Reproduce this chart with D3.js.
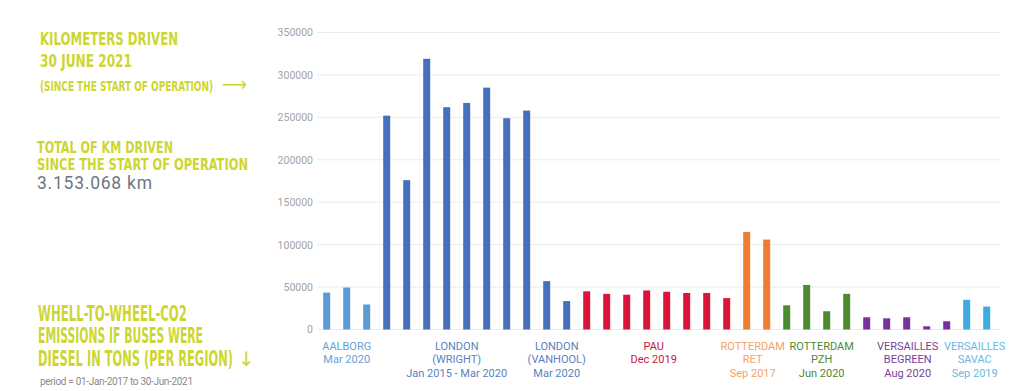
<!DOCTYPE html>
<html>
<head>
<meta charset="utf-8">
<script src="https://cdn.jsdelivr.net/npm/d3@7"></script>
<style>
  body { margin: 0; background: #fff; }
  svg { display: block; }
  .head { font-family: "DejaVu Sans Condensed", "DejaVu Sans"; font-weight: bold; fill: #cdd631; }
  .tick text { font-family: Roboto, sans-serif; font-size: 10.5px; fill: #a3a3a3; }
  .grp { font-family: Roboto, sans-serif; font-size: 11px; }
</style>
</head>
<body>
<script>
// regions, in plotting order, with their colours and labels
const regions = ["aalborg", "wright", "vanhool", "pau", "ret", "pzh", "begreen", "savac"];
const regionColors = ["#5b9bd5", "#4570bd", "#4570bd", "#dc143c", "#ed7d31", "#4e8a32", "#7a3199", "#3eaae2"];
const labelColors = ["#6a9fd4", "#5a7fc0", "#5a7fc0", "#c4183f", "#f2a365", "#4d8a33", "#7b3f9a", "#6bb8e2"];
const regionLabels = [
  ["AALBORG", "Mar 2020"],
  ["LONDON", "(WRIGHT)", "Jan 2015 - Mar 2020"],
  ["LONDON", "(VANHOOL)", "Mar 2020"],
  ["PAU", "Dec 2019"],
  ["ROTTERDAM", "RET", "Sep 2017"],
  ["ROTTERDAM", "PZH", "Jun 2020"],
  ["VERSAILLES", "BEGREEN", "Aug 2020"],
  ["VERSAILLES", "SAVAC", "Sep 2019"]
];

// km driven per bus
const aalborgKm = [43500, 49500, 29500];
const wrightKm = [252000, 176000, 319000, 262000, 267000, 285000, 249000, 258000];
const vanhoolKm = [57000, 33500];
const pauKm = [45000, 42000, 41000, 46000, 44500, 43000, 43000, 37000];
const retKm = [115000, 106000];
const pzhKm = [28500, 52500, 21500, 42000];
const begreenKm = [14400, 13200, 14400, 3800, 9700];
const savacKm = [35000, 27000];

const yTicks = [0, 50000, 100000, 150000, 200000, 250000, 300000, 350000];

const kmByRegion = [aalborgKm, wrightKm, vanhoolKm, pauKm, retKm, pzhKm, begreenKm, savacKm];

const bars = [];
kmByRegion.forEach((arr, r) => arr.forEach(v => bars.push({ region: r, km: v, i: bars.length })));

const width = 1030, height = 391;

const svg = d3.select("body").append("svg")
  .attr("width", width)
  .attr("height", height);

const x = d3.scaleBand()
  .domain(bars.map(d => d.i))
  .range([316.7, 996.7])
  .paddingInner(0.65)
  .paddingOuter(0.325);

const y = d3.scaleLinear()
  .domain([0, 350000])
  .range([329.5, 32.5]);

// gridlines
svg.append("g")
  .selectAll("line")
  .data(yTicks)
  .join("line")
  .attr("x1", 317).attr("x2", 1000)
  .attr("y1", d => y(d)).attr("y2", d => y(d))
  .attr("stroke", "#ebebeb")
  .attr("stroke-width", 1);

const yAxis = svg.append("g")
  .attr("transform", "translate(313,0)")
  .call(d3.axisLeft(y).tickValues(yTicks).tickFormat(d3.format("d")).tickSize(0).tickPadding(0));
yAxis.select(".domain").remove();

svg.append("g")
  .selectAll("rect")
  .data(bars)
  .join("rect")
  .attr("x", d => x(d.i))
  .attr("width", x.bandwidth())
  .attr("y", d => y(d.km))
  .attr("height", d => y(0) - y(d.km))
  .attr("fill", d => regionColors[d.region]);

// group labels centred under each region's bars
const labelNudge = [0, 0, 0, -3, -4, 5, 1, -2];
regionLabels.forEach((lines, r) => {
  const own = bars.filter(d => d.region === r);
  const cx = (x(own[0].i) + x(own[own.length - 1].i) + x.bandwidth()) / 2 + labelNudge[r];
  const t = svg.append("text")
    .attr("class", "grp")
    .attr("text-anchor", "middle")
    .attr("fill", labelColors[r]);
  lines.forEach((s, k) => {
    t.append("tspan").attr("x", cx).attr("y", 349.5 + k * 13.5).text(s);
  });
});

// left hand text block
const heads = [
  { t: "KILOMETERS DRIVEN", x: 40, y: 45, w: 138, s: 17.5 },
  { t: "30 JUNE 2021", x: 40, y: 66.5, w: 92, s: 17.5 },
  { t: "(SINCE THE START OF OPERATION)", x: 40, y: 91, w: 173, s: 14.5 },
  { t: "TOTAL OF KM DRIVEN", x: 37, y: 153.3, w: 136, s: 16.5 },
  { t: "SINCE THE START OF OPERATION", x: 37, y: 170, w: 211, s: 16.5 },
  { t: "WHELL-TO-WHEEL-CO2", x: 38, y: 320.7, w: 149, s: 20.5 },
  { t: "EMISSIONS IF BUSES WERE", x: 38, y: 343.3, w: 165, s: 20.5 },
  { t: "DIESEL IN TONS (PER REGION)", x: 38, y: 366, w: 195, s: 20.5 }
];
svg.append("g")
  .selectAll("text")
  .data(heads)
  .join("text")
  .attr("class", "head")
  .attr("x", d => d.x)
  .attr("y", d => d.y)
  .attr("font-size", d => d.s)
  .attr("textLength", d => d.w)
  .attr("lengthAdjust", "spacingAndGlyphs")
  .text(d => d.t);

svg.append("text")
  .attr("x", 222).attr("y", 91)
  .attr("font-family", "DejaVu Sans")
  .attr("font-size", 20)
  .attr("fill", "#cdd631")
  .attr("textLength", 25)
  .attr("lengthAdjust", "spacingAndGlyphs")
  .text("⟶");

svg.append("text")
  .attr("x", 238).attr("y", 366)
  .attr("font-family", "DejaVu Sans")
  .attr("font-size", 20)
  .attr("fill", "#cdd631")
  .text("↓");

svg.append("text")
  .attr("x", 37).attr("y", 189.3)
  .attr("font-family", "Roboto, sans-serif")
  .attr("font-size", 17.5)
  .attr("fill", "#6f7781")
  .attr("textLength", 115)
  .text("3.153.068 km");

svg.append("text")
  .attr("x", 40).attr("y", 385)
  .attr("font-family", "Roboto, sans-serif")
  .attr("font-size", 10)
  .attr("fill", "#8a8a8a")
  .attr("textLength", 153)
  .text("period = 01-Jan-2017 to 30-Jun-2021");
</script>
</body>
</html>
